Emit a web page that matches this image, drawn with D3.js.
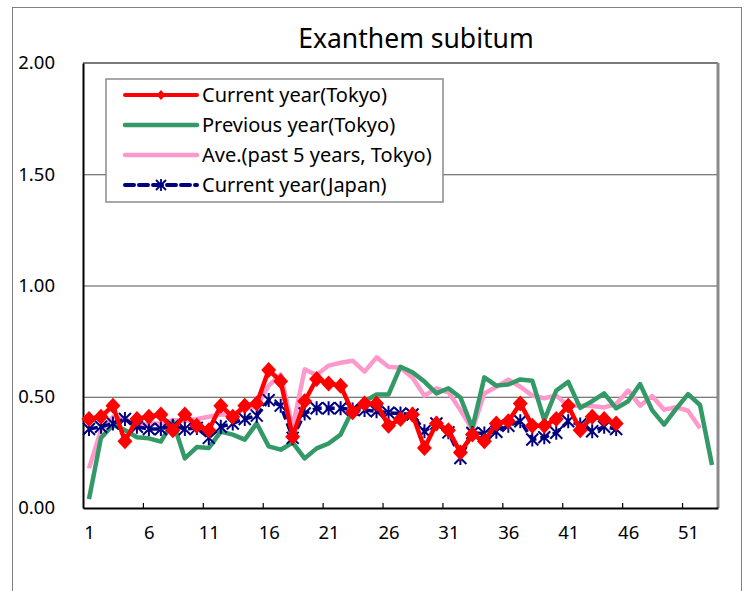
<!DOCTYPE html>
<html><head><meta charset="utf-8">
<script src="https://cdn.jsdelivr.net/npm/d3@7"></script>
<style>
body{margin:0;background:#fff;}
svg{display:block;}
text{font-family:"Noto Sans","DejaVu Sans",sans-serif;}
</style></head>
<body><svg id="c" width="752" height="591"></svg>
<script>
const title = "Exanthem subitum";
const seriesNames = ["Current year(Tokyo)","Previous year(Tokyo)","Ave.(past 5 years, Tokyo)","Current year(Japan)"];
const xTickLabels = [1,6,11,16,21,26,31,36,41,46,51];
const yTickValues = [0,0.5,1,1.5,2];
const currentTokyo = [0.40,0.41,0.46,0.30,0.40,0.41,0.42,0.35,0.42,0.37,0.35,0.46,0.41,0.46,0.47,0.62,0.57,0.32,0.48,0.58,0.56,0.55,0.43,0.47,0.47,0.37,0.40,0.42,0.27,0.38,0.35,0.25,0.33,0.30,0.38,0.39,0.47,0.37,0.37,0.40,0.46,0.35,0.41,0.40,0.38];
const previousTokyo = [0.04,0.315,0.373,0.35,0.318,0.313,0.298,0.388,0.223,0.274,0.27,0.343,0.33,0.307,0.38,0.277,0.262,0.294,0.223,0.268,0.29,0.33,0.44,0.48,0.51,0.51,0.635,0.61,0.568,0.515,0.538,0.497,0.36,0.587,0.55,0.555,0.578,0.572,0.395,0.528,0.567,0.45,0.48,0.515,0.448,0.48,0.557,0.44,0.375,0.445,0.512,0.463,0.193];
const avgTokyo = [0.178,0.35,0.41,0.40,0.37,0.38,0.38,0.395,0.39,0.40,0.41,0.42,0.42,0.445,0.457,0.55,0.60,0.362,0.623,0.598,0.64,0.653,0.662,0.613,0.677,0.635,0.63,0.585,0.505,0.538,0.52,0.44,0.352,0.515,0.545,0.577,0.545,0.505,0.493,0.505,0.46,0.46,0.458,0.452,0.467,0.528,0.46,0.503,0.442,0.453,0.437,0.358];
const currentJapan = [0.355,0.365,0.38,0.40,0.365,0.355,0.355,0.37,0.355,0.36,0.315,0.365,0.38,0.40,0.415,0.485,0.46,0.315,0.425,0.448,0.448,0.448,0.443,0.44,0.435,0.428,0.425,0.42,0.345,0.38,0.34,0.225,0.337,0.335,0.343,0.37,0.39,0.308,0.318,0.338,0.39,0.375,0.345,0.365,0.355];

const svg = d3.select("#c");
const L=83, R=718, T=63, B=508;
const x = d3.scaleLinear().domain([0.5,53.5]).range([L,R]);
const y = d3.scaleLinear().domain([0,2]).range([B,T]);

// outer frame
svg.append("rect").attr("x",12.5).attr("y",7.5).attr("width",729).attr("height",600)
  .attr("fill","none").attr("stroke","#808080").attr("stroke-width",1);

// title
svg.append("text").attr("x",416).attr("y",48).attr("text-anchor","middle")
  .attr("font-size",26.5).attr("fill","#000").text(title);

// gridlines
const grid = svg.append("g").attr("transform",`translate(${L},0)`)
  .call(d3.axisLeft(y).tickValues([0.5,1,1.5]).tickSize(-(R-L)).tickFormat(""));
grid.select(".domain").remove();
grid.selectAll("line").attr("stroke","#505050").attr("stroke-width",1.2);

// plot border top/right
svg.append("line").attr("x1",L).attr("x2",R).attr("y1",T).attr("y2",T).attr("stroke","#7a7a7a").attr("stroke-width",2);
svg.append("line").attr("x1",R).attr("x2",R).attr("y1",T).attr("y2",B).attr("stroke","#8a8a8a").attr("stroke-width",3);

// y axis labels
const yAx = svg.append("g").attr("transform",`translate(${L},0)`)
  .call(d3.axisLeft(y).tickValues(yTickValues).tickFormat(d3.format(".2f")).tickSize(0).tickPadding(28));
yAx.select(".domain").attr("stroke","#000").attr("stroke-width",2);
yAx.selectAll("text").attr("font-size",18.5).attr("fill","#000").style("font-family","'Noto Sans',sans-serif");

// x axis labels
const xAx = svg.append("g").attr("transform",`translate(0,${B})`)
  .call(d3.axisBottom(x).tickValues(xTickLabels).tickFormat(d3.format("d")).tickSize(0).tickPadding(18));
xAx.select(".domain").attr("stroke","#000").attr("stroke-width",2);
xAx.selectAll("text").attr("font-size",18.5).attr("fill","#000").style("font-family","'Noto Sans',sans-serif");

// x ticks at category boundaries
const xTk = svg.append("g").attr("transform",`translate(0,${B})`)
  .call(d3.axisBottom(x).tickValues(d3.range(5.5,53,5)).tickSizeInner(-5).tickSizeOuter(0).tickFormat(""));
xTk.select(".domain").remove();
xTk.selectAll("line").attr("stroke","#000").attr("stroke-width",1.2);

const line = d3.line().x((d,i)=>x(i+1)).y(d=>y(d));

// pink
svg.append("path").datum(avgTokyo).attr("d",line).attr("fill","none")
  .attr("stroke","#FF99CC").attr("stroke-width",4.5).attr("stroke-linejoin","round");
// green
svg.append("path").datum(previousTokyo).attr("d",line).attr("fill","none")
  .attr("stroke","#339966").attr("stroke-width",4.5).attr("stroke-linejoin","round");
// navy
svg.append("path").datum(currentJapan).attr("d",line).attr("fill","none")
  .attr("stroke","#000080").attr("stroke-width",3.5).attr("stroke-dasharray","9,4");
svg.append("g").selectAll("path").data(currentJapan).join("path")
  .attr("transform",(d,i)=>`translate(${x(i+1)},${y(d)})`)
  .attr("d","M0,-7L0,7M-6,-6L6,6M-6,6L6,-6")
  .attr("stroke","#000080").attr("stroke-width",2).attr("fill","none");
// red
svg.append("path").datum(currentTokyo).attr("d",line).attr("fill","none")
  .attr("stroke","#FF0000").attr("stroke-width",4.5).attr("stroke-linejoin","round");
svg.append("g").selectAll("path").data(currentTokyo).join("path")
  .attr("transform",(d,i)=>`translate(${x(i+1)},${y(d)})`)
  .attr("d","M0,-8L7.5,0L0,8L-7.5,0Z").attr("fill","#FF0000");

// legend
const lg = svg.append("g");
lg.append("rect").attr("x",106).attr("y",79).attr("width",337).attr("height",123)
  .attr("fill","#fff").attr("stroke","#8a8a8a").attr("stroke-width",1.5);
const rows=[95,125,155,185];
const styles=[
 {c:"#FF0000",w:4,dash:null},
 {c:"#339966",w:4.5,dash:null},
 {c:"#FF99CC",w:4.5,dash:null},
 {c:"#000080",w:4,dash:"9,5"}];
seriesNames.forEach((n,i)=>{
  const s=styles[i];
  const l=lg.append("line").attr("x1",125).attr("x2",197).attr("y1",rows[i]).attr("y2",rows[i])
    .attr("stroke",s.c).attr("stroke-width",s.w).attr("stroke-linecap","round");
  if(s.dash) l.attr("stroke-dasharray",s.dash);
  lg.append("text").attr("x",202).attr("y",rows[i]).attr("dy","0.35em").attr("font-size",20).attr("fill","#000").text(n);
});
lg.append("path").attr("transform","translate(161,95)").attr("d","M0,-5L4.5,0L0,5L-4.5,0Z").attr("fill","#FF0000");
lg.append("path").attr("transform","translate(161,185)").attr("d","M0,-6L0,6M-5,-5L5,5M-5,5L5,-5").attr("stroke","#000080").attr("stroke-width",1.8);
</script></body></html>
